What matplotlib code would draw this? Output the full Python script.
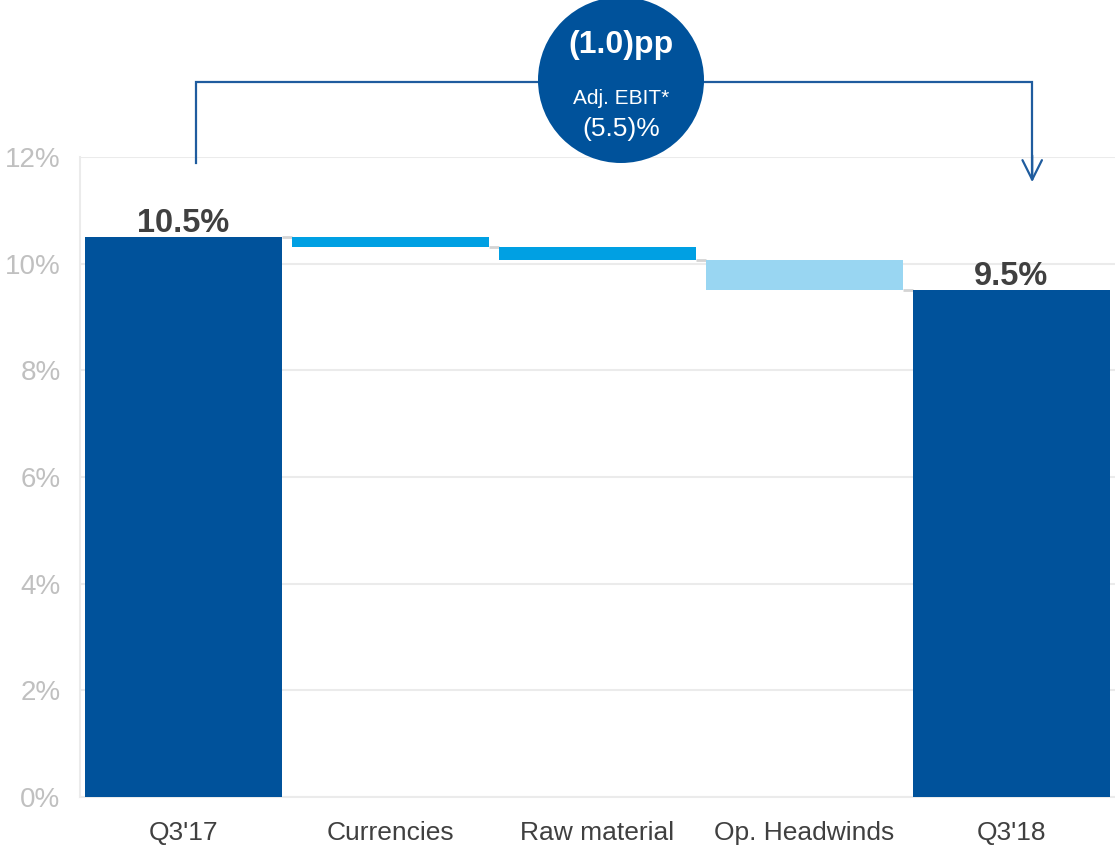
import matplotlib
matplotlib.use("Agg")
import matplotlib.pyplot as plt
from matplotlib.patches import Ellipse

plt.rcParams['font.family'] = ['Liberation Sans', 'DejaVu Sans']

categories = ["Q3'17", "Currencies", "Raw material", "Op. Headwinds", "Q3'18"]
start_value = 10.5
deltas = [-0.18, -0.26, -0.56]
end_value = 9.5
value_labels = ["10.5%", "9.5%"]
yticks = [0, 2, 4, 6, 8, 10, 12]
ytick_labels = ["0%", "2%", "4%", "6%", "8%", "10%", "12%"]
bubble_main = "(1.0)pp"
bubble_sub = "Adj. EBIT*"
bubble_pct = "(5.5)%"

DARK = "#00529B"
MID = "#00A0E3"
LIGHT = "#99D6F2"
GRID = "#EBEBEB"
CONN = "#D4D4D4"

fig = plt.figure(figsize=(11.15, 8.46), dpi=100)
ax = fig.add_axes([0.0717, 0.0579, 0.9283, 0.7565])

width = 0.955
# total bars
ax.bar(0, start_value, width=width, color=DARK, zorder=3)
ax.bar(4, end_value, width=width, color=DARK, zorder=3)

# floating delta bars
level = start_value
delta_colors = [MID, MID, LIGHT]
levels = [level]
for i, (d, c) in enumerate(zip(deltas, delta_colors), start=1):
    ax.bar(i, d, bottom=level, width=width, color=c, zorder=3)
    level += d
    levels.append(level)

# connectors between neighbouring bars
for i, lv in enumerate(levels):
    ax.plot([i + width / 2, i + 1 - width / 2], [lv, lv], color=CONN, lw=2, zorder=2,
            solid_capstyle='butt')

# value labels on the totals
ax.text(0, start_value - 0.03, value_labels[0], ha='center', va='bottom',
        fontsize=23.5, fontweight='bold', color='#404040')
ax.text(4, end_value - 0.03, value_labels[1], ha='center', va='bottom',
        fontsize=23.5, fontweight='bold', color='#404040')

ax.set_xlim(-0.5, 4.5)
ax.set_ylim(0, 12)
ax.set_yticks(yticks)
ax.set_yticklabels(ytick_labels)
ax.set_xticks(range(len(categories)))
ax.set_xticklabels(categories)
ax.tick_params(axis='y', length=0, pad=14, labelsize=20, labelcolor='#C0C0C0')
ax.tick_params(axis='x', length=0, pad=17, labelsize=19, labelcolor='#404040')
ax.grid(axis='y', color=GRID, lw=1.5, zorder=0)
ax.set_axisbelow(True)
for s in ['top', 'right']:
    ax.spines[s].set_visible(False)
ax.spines['left'].set_color(GRID)
ax.spines['bottom'].set_color(GRID)
ax.spines['left'].set_linewidth(1.5)
ax.spines['bottom'].set_linewidth(1.5)

# bracket from the first total to the last total
LINE = "#1F5C9E"
x_left, x_right = 0.06, 4.1
y_top, y_left_end, y_arrow = 13.41, 11.89, 11.53
ax.plot([x_left, x_left, x_right, x_right], [y_left_end, y_top, y_top, y_arrow + 0.05],
        color=LINE, lw=1.6, clip_on=False, zorder=4, solid_joinstyle='miter')
ax.annotate("", xy=(x_right, y_arrow), xytext=(x_right, y_arrow + 0.5),
            arrowprops=dict(arrowstyle='->,head_length=1.4,head_width=0.7',
                            color=LINE, lw=1.6, shrinkA=0, shrinkB=0),
            annotation_clip=False)

# summary bubble
cx, cy, r = 621 / 1115, 1 - 80 / 846, 83
bubble = Ellipse((cx, cy), width=2 * r / 1115, height=2 * r / 846,
                 transform=fig.transFigure, facecolor=DARK, edgecolor='none', zorder=5)
fig.patches.append(bubble)
fig.text(cx, 1 - 45 / 846, bubble_main, ha='center', va='center', fontsize=23,
         fontweight='bold', color='white', zorder=6)
fig.text(cx, 1 - 99 / 846, bubble_sub, ha='center', va='center', fontsize=15,
         color='white', zorder=6)
fig.text(cx, 1 - 129 / 846, bubble_pct, ha='center', va='center', fontsize=19,
         color='white', zorder=6)

fig.savefig("out.png", dpi=100)
